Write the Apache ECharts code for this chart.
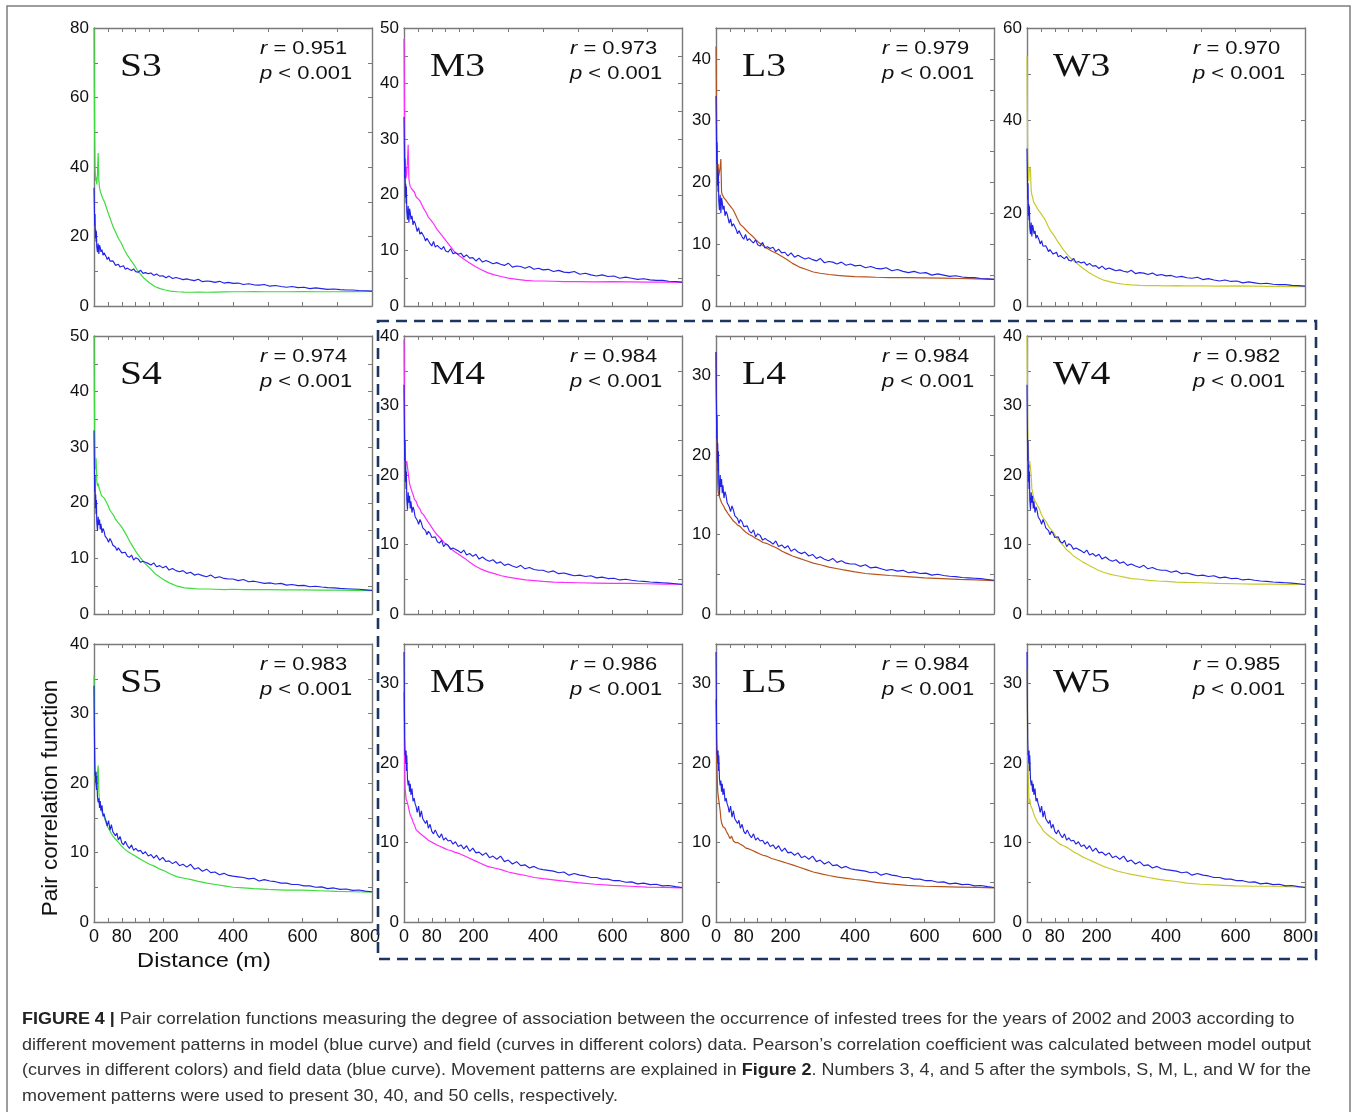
<!DOCTYPE html>
<html><head><meta charset="utf-8">
<script src="https://cdn.jsdelivr.net/npm/echarts@6/dist/echarts.min.js"></script>
<style>html,body{margin:0;padding:0;background:#fff;}#c{width:1357px;height:1112px;}</style>
</head><body><div id="c"></div>
<script>
// ---------------- DATA ----------------
const panelNames = [["S3","M3","L3","W3"],["S4","M4","L4","W4"],["S5","M5","L5","W5"]];
const rValues = [["0.951","0.973","0.979","0.970"],["0.974","0.984","0.984","0.982"],["0.983","0.986","0.984","0.985"]];
const yMaxes = [[80,50,45,60],[50,40,35,40],[40,35,35,35]];
const yLabelSteps = [[20,10,10,20],[10,10,10,10],[10,10,10,10]];
const yTickSteps = [[10,5,5,10],[5,5,5,5],[5,5,5,5]];
const xLabelValues = [0,80,200,400,600,800];
const xLabelTexts = [["0","80","200","400","600","800"],["0","80","200","400","600","800"],["0","80","200","400","600","600"],["0","80","200","400","600","800"]];
const xTickValues = [40,80,120,160,200,300,400,500,600,700];

// distances (m) at which field curves were read
const xField = [0,1,2,3,4,5,6,8,10,12,14,16,18,20,23,26,30,35,40,45,50,56,62,70,78,86,95,105,115,125,135,145,160,175,190,205,220,240,260,280,300,325,350,375,400,430,460,500,550,600,650,700,750,800];
// distances (m) at which model (blue) curves were read
const xModel = [0,1,2,3,4,5,6,7,8,10,12,14,16,18,20,23,26,29,32,35,38,42,46,50,54,58,62,66,70,75,80,85,90,96,102,108,114,120,127,134,141,148,156,164,172,180,189,198,207,216,226,236,246,256,267,278,289,300,312,324,336,348,361,374,387,400,415,430,445,460,475,490,506,522,538,554,570,587,604,621,638,655,672,690,708,726,744,762,781,800];

// field data (coloured curves)
const fieldS3 = [80,62,48,40,38,36,37,35,38,44,36,34,33,32.5,31.5,30.8,30,28.5,27,25.6,24.2,22.5,21.3,19.5,18.2,16.4,14.8,13.3,11.9,10.2,9.0,7.9,6.6,5.6,5.0,4.6,4.3,4.1,4.0,3.95,4.0,3.95,4.0,4.05,4.1,4.1,4.15,4.1,4.1,4.15,4.1,4.1,4.15,4.2];
const fieldM3 = [48,38,30,26,24,25,23,24,26,29,23,22,21.5,21.8,21,21.3,20.5,19.6,19.8,19,18.4,17.6,17,16,15.4,14.7,13.8,13,12.2,11.4,10.6,9.8,9,8.3,7.7,7.1,6.6,6.0,5.6,5.3,5.0,4.8,4.6,4.5,4.5,4.45,4.4,4.4,4.35,4.4,4.35,4.3,4.3,4.25];
const fieldL3 = [42,35,28,24,22,20.5,23,21,21,22.5,23.8,18.5,18,17.8,17.5,17.2,17,16.6,16.3,15.9,15.5,14.8,14.1,13.2,12.8,12.3,11.8,11.3,10.7,10.2,9.8,9.4,8.9,8.5,8.0,7.5,6.9,6.3,5.9,5.5,5.3,5.1,4.95,4.85,4.75,4.7,4.65,4.6,4.6,4.55,4.5,4.45,4.4,4.3];
const fieldW3 = [54,42,33,29,28,27,29,30,29.5,25,24,23.5,22.8,22.3,22,21.6,21,20.5,20,19.4,18.9,18,17,16,15.2,14.2,13.2,12.1,11.2,10.4,9.7,9.1,8.2,7.4,6.7,6.1,5.6,5.2,4.9,4.7,4.55,4.45,4.4,4.4,4.35,4.4,4.35,4.35,4.3,4.35,4.3,4.25,4.2,4.2];
const fieldS4 = [50,40,32,28,26,27,28,24,23,23.5,22.8,22.5,22,21.6,21.2,21,20.8,20.2,19.6,18.8,18.3,17.8,17.0,16.4,15.8,15.0,14.0,12.8,11.8,10.8,10.0,9.2,8.3,7.3,6.6,6.0,5.5,5.0,4.7,4.6,4.5,4.5,4.45,4.4,4.45,4.4,4.4,4.4,4.35,4.35,4.3,4.3,4.25,4.2];
const fieldM4 = [39.5,32,26,23,22,22,21.5,22,21.8,22,19.5,18.8,18.4,18.2,17.6,17.2,16.5,16.2,15.5,15.2,14.6,14.3,13.8,13.2,12.6,12.0,11.4,10.9,10.3,9.9,9.4,9.0,8.5,8.0,7.4,6.9,6.5,6.1,5.8,5.5,5.3,5.1,4.9,4.8,4.7,4.6,4.55,4.5,4.45,4.4,4.4,4.35,4.3,4.3];
const fieldL4 = [33,28,25,21,18,16.5,15.5,15,15.2,14.5,14.3,14,14.2,13.8,13.5,13.2,13,12.6,12.4,12,11.7,11.5,11.2,11,10.6,10.3,10.0,9.8,9.5,9.3,9.0,8.9,8.6,8.3,7.9,7.6,7.3,7.0,6.7,6.4,6.2,5.9,5.7,5.5,5.3,5.1,5.0,4.85,4.7,4.55,4.45,4.35,4.3,4.2];
const fieldW4 = [40,33,27,25,24,22,21,22,22,20,18,17.6,17,16.6,16.3,16,15.6,15.2,14.5,14,13.6,13.2,12.6,12.1,11.6,10.9,10.4,9.8,9.2,8.8,8.3,8.0,7.5,7.1,6.7,6.3,6.0,5.7,5.5,5.3,5.1,5.0,4.85,4.75,4.7,4.6,4.55,4.5,4.4,4.35,4.3,4.3,4.25,4.25];
const fieldS5 = [35.5,30,25,22,20.5,20,19.5,20,21.5,22.5,19,17,16.5,16.2,15.8,15.5,15,14.2,13.6,13.2,12.7,12.3,11.9,11.5,11.0,10.6,10.2,9.9,9.6,9.3,9.0,8.7,8.3,8.0,7.6,7.3,6.9,6.5,6.3,6.1,5.85,5.6,5.4,5.2,5.0,4.9,4.8,4.7,4.6,4.6,4.5,4.4,4.35,4.3];
const fieldM5 = [29,24,20,17,16.5,16,15.5,15.3,15,14.8,14.2,13.8,13.5,13.4,13,12.6,12.2,11.6,11.6,11.2,11.0,10.8,10.6,10.3,10.1,9.9,9.7,9.5,9.3,9.1,9.0,8.8,8.6,8.3,8.0,7.7,7.4,7.0,6.8,6.6,6.3,6.05,5.85,5.6,5.45,5.3,5.15,4.95,4.75,4.6,4.5,4.4,4.35,4.3];
const fieldL5 = [28,25,21,19,17.5,16.5,16,16.2,15.8,14,13,12.5,12.3,12,11.8,11.8,11.4,11,10.5,10.8,10.2,10.0,10.0,9.8,9.6,9.3,9.2,9.0,8.8,8.6,8.4,8.3,8.0,7.8,7.6,7.4,7.2,6.9,6.6,6.3,6.1,5.85,5.65,5.5,5.35,5.2,5.0,4.8,4.6,4.5,4.45,4.4,4.35,4.3];
const fieldW5 = [32,27,22,20,18,16,15,15.5,14.8,14.5,14.3,14.1,13.8,13.6,13.2,13,12.6,12.3,12,11.6,11.4,11.1,10.9,10.6,10.4,10.1,9.8,9.6,9.4,9.1,8.8,8.6,8.2,7.9,7.6,7.3,7.0,6.7,6.4,6.2,6.0,5.8,5.6,5.4,5.25,5.1,4.9,4.75,4.65,4.55,4.5,4.5,4.45,4.4];

// model output (blue curves), one per row (30, 40, 50 cells)
const modelRow3 = [34,28.5,23,26.5,19.5,22,18.5,21.5,17, 15.5,18,15,17.5,16.8,15.6, 16.2,14.6,15.3,14.9,14.2,13.4, 14.1,12.9,13.3,13.0,12.4,11.7,12.2,12.0, 11.2,10.8,11.6,10.6, 10.9,10.5,10.2,10.7,9.9, 9.7,10.3,9.4,9.6, 9.3,9.5,8.8,9.2, 8.6,8.7,8.1,8.6, 7.9,8.2,7.9,7.6, 7.8,7.5,7.3,7.7, 7.0,7.2,7.1,6.8, 7.1,6.6,6.8,6.5, 6.6,6.2,6.4,6.1,6.0,6.2, 5.7,5.9,5.6,5.4,5.6, 5.3,5.4,5.0,5.2,5.0,4.8, 4.9,4.7,4.6,4.6,4.45,4.4,4.3];
const modelRow4 = [33,27,22,25,19,21.5,18,20.5,16.5, 15,17.5,16,17,15.2,16.2, 14.6,15.4,14.9,14.0,14.2,13.5, 12.9,13.6,13.1,12.4,12.6,12.0,11.4,11.9, 11.6,11.0,10.8,11.1, 10.4,10.2,10.6,9.7,10.1, 9.9,9.3,9.5,9.3, 9.1,8.8,9.2,8.5, 8.7,8.3,8.6,7.9, 8.2,7.8,7.6,7.8, 7.3,7.5,7.0,7.2, 6.9,6.7,7.0,6.5, 6.7,6.4,6.3,6.3, 6.0,6.2,5.8,5.9,5.7,5.5, 5.6,5.4,5.5,5.2,5.3, 5.1,5.15,4.9,5.0,4.85,4.75, 4.7,4.6,4.55,4.5,4.45,4.35,4.25];
const modelRow5 = [34,28,23,21,21.5,20,21.6,19,21, 18,17.2,17.8,16.4,17.4,16, 16.8,15.2,15.6,14.9,14.5,13.8, 14.6,13.2,14,13.0,12.8,12.4,12.8,11.8, 12.3,11.4,11.1,11.6, 11.0,10.6,11.1,10.3,10.6, 10.2,10.3,9.8,10.1, 9.5,9.7,9.2,9.6, 8.9,9.3,8.7,8.8, 8.4,8.7,8.1,8.3, 7.9,8.3,7.6,7.8, 7.3,7.6,7.1,7.2, 6.8,7.0,6.7,6.6, 6.5,6.4,6.2,6.3,5.9,6.1, 5.9,5.8,5.6,5.6,5.4, 5.4,5.2,5.2,5.0,5.05,4.8, 4.9,4.7,4.75,4.55,4.6,4.45,4.35];

const fieldByPanel = [[fieldS3,fieldM3,fieldL3,fieldW3],[fieldS4,fieldM4,fieldL4,fieldW4],[fieldS5,fieldM5,fieldL5,fieldW5]];
const modelByRow = [modelRow3, modelRow4, modelRow5];

const captionLines = [
  "{b|FIGURE 4 |} Pair correlation functions measuring the degree of association between the occurrence of infested trees for the years of 2002 and 2003 according to",
  "different movement patterns in model (blue curve) and field (curves in different colors) data. Pearson\u2019s correlation coefficient was calculated between model output",
  "(curves in different colors) and field data (blue curve). Movement patterns are explained in {b|Figure 2}. Numbers 3, 4, and 5 after the symbols, S, M, L, and W for the",
  "movement patterns were used to present 30, 40, and 50 cells, respectively."
];

// ---------------- LAYOUT / STYLE ----------------
const colLeft = [94, 404, 716, 1027];
const rowTop = [28, 336, 644];
const plotW = 278, plotH = 278;
const fieldColors = ['#3ddc3d', '#ff2cff', '#b5531d', '#c9c92e'];
const modelColor = '#2323e6';
const AX = '#7a7a7a';
const SANS = '"Liberation Sans", Arial, sans-serif';
const SERIF = '"Liberation Serif", "Times New Roman", serif';
const NARROW = '"Liberation Sans Narrow", "Arial Narrow", "Liberation Sans", sans-serif';
const YTICK_FS = 17, XTICK_FS = 18;

function range(step, max) { const a = []; for (let v = 0; v <= max + 1e-9; v += step) a.push(v); return a; }
function pairs(xs, ys) { return ys.map((y, i) => [xs[i], y]); }

const grids = [], xAxes = [], yAxes = [], series = [], graphics = [];

for (let r = 0; r < 3; r++) {
  for (let c = 0; c < 4; c++) {
    const p = r * 4 + c;
    grids.push({ left: colLeft[c], top: rowTop[r], width: plotW, height: plotH, containLabel: false, outerBoundsMode: 'none' });
    const labTexts = xLabelTexts[c];
    xAxes.push({
      type: 'value', gridIndex: p, position: 'bottom', min: 0, max: 800,
      axisLine: { show: true, onZero: false, lineStyle: { color: AX, width: 1.4 } },
      axisTick: { show: true, inside: true, length: 4, customValues: xTickValues, lineStyle: { color: AX, width: 1 } },
      axisLabel: {
        show: r === 2, customValues: xLabelValues, margin: 6, fontSize: XTICK_FS, color: '#111', fontFamily: SANS,
        formatter: function (v) { const i = xLabelValues.indexOf(v); const t = labTexts[i]; return v === 800 ? '{m|' + t + '}' : t; },
        rich: { m: { fontSize: XTICK_FS, color: '#111', fontFamily: SANS, padding: [0, 14, 0, 0] } }
      },
      splitLine: { show: false }
    });
    xAxes.push({
      type: 'value', gridIndex: p, position: 'top', min: 0, max: 800,
      axisLine: { show: true, onZero: false, lineStyle: { color: AX, width: 1.4 } },
      axisTick: { show: true, inside: true, length: 4, customValues: xTickValues, lineStyle: { color: AX, width: 1 } },
      axisLabel: { show: false }, splitLine: { show: false }
    });
    const ym = yMaxes[r][c];
    const yl = range(yLabelSteps[r][c], ym);
    const yt = range(yTickSteps[r][c], ym);
    yAxes.push({
      type: 'value', gridIndex: p, position: 'left', min: 0, max: ym,
      axisLine: { show: true, onZero: false, lineStyle: { color: AX, width: 1.4 } },
      axisTick: { show: true, inside: true, length: 4, customValues: yt, lineStyle: { color: AX, width: 1 } },
      axisLabel: { show: true, customValues: yl, margin: 5, fontSize: YTICK_FS, color: '#111', fontFamily: SANS },
      splitLine: { show: false }
    });
    yAxes.push({
      type: 'value', gridIndex: p, position: 'right', min: 0, max: ym,
      axisLine: { show: true, onZero: false, lineStyle: { color: AX, width: 1.4 } },
      axisTick: { show: true, inside: true, length: 4, customValues: yt, lineStyle: { color: AX, width: 1 } },
      axisLabel: { show: false }, splitLine: { show: false }
    });
    series.push({
      type: 'line', xAxisIndex: 2 * p, yAxisIndex: 2 * p, showSymbol: false, symbol: 'none', silent: true,
      data: pairs(xField, fieldByPanel[r][c]), lineStyle: { color: fieldColors[c], width: 1.2 }, z: 2
    });
    series.push({
      type: 'line', xAxisIndex: 2 * p, yAxisIndex: 2 * p, showSymbol: false, symbol: 'none', silent: true,
      data: pairs(xModel, modelByRow[r]), lineStyle: { color: modelColor, width: 1.15 }, z: 3
    });
    graphics.push({
      type: 'text', x: colLeft[c] + 26, y: rowTop[r] + 39, scaleX: 1.2, z: 50,
      style: { text: panelNames[r][c], fontSize: 33, fontFamily: SERIF, fill: '#111', align: 'left', verticalAlign: 'middle' }
    });
    graphics.push({
      type: 'text', x: colLeft[c] + 166, y: rowTop[r] + 21, scaleX: 1.22, z: 50,
      style: { text: '{i|r} = ' + rValues[r][c], fontSize: 18, fontFamily: SANS, fill: '#111', align: 'left', verticalAlign: 'middle',
        rich: { i: { fontStyle: 'italic', fontSize: 18, fontFamily: SANS, fill: '#111' } } }
    });
    graphics.push({
      type: 'text', x: colLeft[c] + 166, y: rowTop[r] + 46, scaleX: 1.22, z: 50,
      style: { text: '{i|p} < 0.001', fontSize: 18, fontFamily: SANS, fill: '#111', align: 'left', verticalAlign: 'middle',
        rich: { i: { fontStyle: 'italic', fontSize: 18, fontFamily: SANS, fill: '#111' } } }
    });
  }
}

graphics.push({ type: 'rect', shape: { x: 7, y: 6, width: 1343, height: 1130 }, style: { fill: 'none', stroke: '#7d7d7d', lineWidth: 1.5 }, z: 1, silent: true });
graphics.push({ type: 'rect', shape: { x: 378, y: 321, width: 938, height: 638 }, style: { fill: 'none', stroke: '#1e3560', lineWidth: 2.6, lineDash: [11, 7] }, z: 60, silent: true });
graphics.push({ type: 'text', x: 51, y: 798, rotation: Math.PI / 2, z: 50,
  style: { text: 'Pair correlation function', fontSize: 22.5, fontFamily: SANS, fill: '#111', align: 'center', verticalAlign: 'middle' } });
graphics.push({ type: 'text', x: 204, y: 961, scaleX: 1.18, z: 50,
  style: { text: 'Distance (m)', fontSize: 20, fontFamily: SANS, fill: '#111', align: 'center', verticalAlign: 'middle' } });

const meas = document.createElement('canvas').getContext('2d');
meas.font = '17px ' + NARROW;
const capScale = 1289 / meas.measureText(captionLines[1]).width;
const capY = [1019, 1045, 1070, 1096];
captionLines.forEach((t, i) => {
  graphics.push({ type: 'text', x: 22, y: capY[i], scaleX: capScale, z: 50,
    style: { text: t, fontSize: 17, fontFamily: NARROW, fill: '#333', align: 'left', verticalAlign: 'middle',
      rich: { b: { fontWeight: 'bold', fontSize: 17, fontFamily: NARROW, fill: '#222' } } } });
});

const chart = echarts.init(document.getElementById('c'), null, { renderer: 'canvas' });
chart.setOption({
  animation: false,
  backgroundColor: '#fff',
  grid: grids, xAxis: xAxes, yAxis: yAxes, series: series,
  graphic: { elements: graphics }
});
</script>
</body></html>
